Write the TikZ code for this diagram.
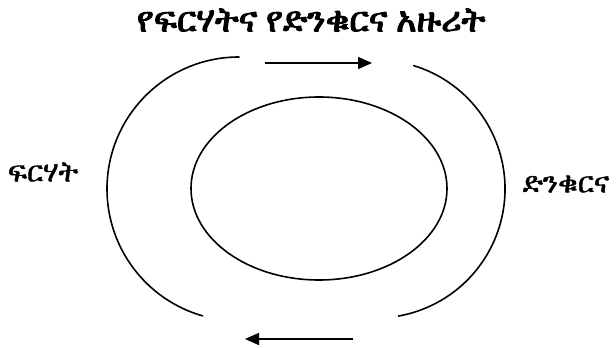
\documentclass[tikz,border=0pt]{standalone}
\usepackage{fontspec}
\usetikzlibrary{arrows.meta}
\IfFontExistsTF{FreeSerif}{\newfontfamily\ethfont[FakeBold=1.5]{FreeSerif}\newfontfamily\ethbold[FakeBold=3]{FreeSerif}}{%
 \IfFontExistsTF{Abyssinica SIL}{\newfontfamily\ethfont[FakeBold=1.5]{Abyssinica SIL}\newfontfamily\ethbold[FakeBold=3]{Abyssinica SIL}}{%
  \IfFontExistsTF{Noto Sans Ethiopic}{\newfontfamily\ethfont{Noto Sans Ethiopic}\newfontfamily\ethbold[FakeBold=2]{Noto Sans Ethiopic}}{%
   \newfontfamily\ethfont{DejaVu Sans}\newfontfamily\ethbold{DejaVu Sans Bold}}}}
\tikzset{
  curve/.style={line width=1.6pt, line cap=round},
  flow/.style={line width=1.6pt, -{Triangle[length=14pt,width=12pt]}},
  lbl/.style={inner sep=0pt, font=\ethfont\fontsize{29}{31}\selectfont},
  ttl/.style={inner sep=0pt, font=\ethbold\fontsize{35}{38}\selectfont}
}
\begin{document}
\begin{tikzpicture}[x=1pt,y=-1pt]
\useasboundingbox[fill=white] (0,0) rectangle (616,348);
% title and labels
\node[ttl] (title) at (311,20) {የፍርሃትና የድንቁርና አዙሪት};
\node[lbl] (fear) at (43,172) {ፍርሃት};
\node[lbl] (ign) at (566,184) {ድንቁርና};
% inner ellipse
\coordinate (cen) at (319,188.5);
\draw[curve] (cen) ellipse [x radius=128, y radius=91.5];
% outer arcs
\coordinate (lc) at (239,189);
\coordinate (rc) at (376,189);
\draw[curve] ([shift={(-90:132)}]lc) arc[start angle=-90, end angle=-254, radius=132];
\draw[curve] ([shift={(-73:129)}]rc) arc[start angle=-73, end angle=80, radius=129];
% arrows
\coordinate (ta) at (265,63);
\coordinate (tb) at (372,63);
\coordinate (ba) at (353,339);
\coordinate (bb) at (245,339);
\draw[flow] (ta) -- (tb);
\draw[flow] (ba) -- (bb);
\end{tikzpicture}
\end{document}
